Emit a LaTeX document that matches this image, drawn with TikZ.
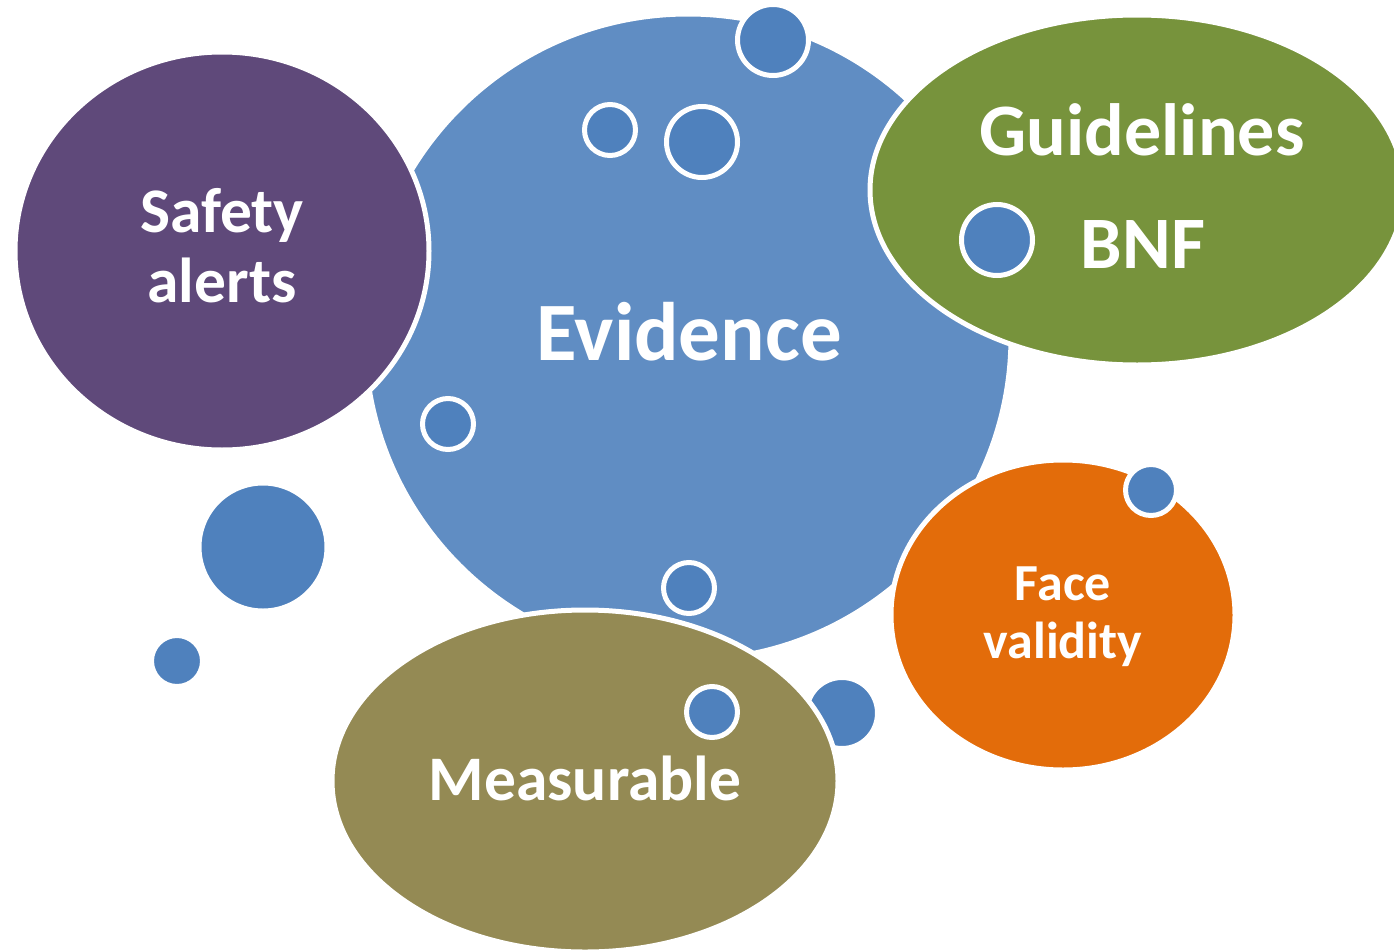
\documentclass[tikz,border=0pt]{standalone}
\usepackage{fontspec}
\setmainfont{Carlito}
\usetikzlibrary{shapes.geometric}
\definecolor{evblue}{RGB}{96,141,195}
\definecolor{dotblue}{RGB}{79,129,189}
\definecolor{plum}{RGB}{95,73,122}
\definecolor{leaf}{RGB}{119,147,60}
\definecolor{amber}{RGB}{227,108,10}
\definecolor{khaki}{RGB}{148,138,84}
\newcommand{\fsz}[1]{\fontsize{#1}{#1}\selectfont\bfseries}
\tikzset{
  blob/.style={ellipse, inner sep=0pt, draw=white, line width=5pt},
  dot/.style={circle, inner sep=0pt, fill=dotblue, draw=white, line width=5pt, minimum size=#1},
  label/.style={text=white, anchor=base, align=center, inner sep=0pt},
}
\begin{document}
\begin{tikzpicture}[x=1pt, y=-1pt]
\useasboundingbox (0,0) rectangle (1394,950);
\clip (0,0) rectangle (1394,950);
% main bubble
\node[circle, inner sep=0pt, fill=evblue, draw=white, line width=5pt, minimum size=646pt] (evidence) at (688,337) {};
% surrounding bubbles
\node[blob, fill=plum, minimum width=414pt, minimum height=398pt] (safety) at (222,251) {};
\node[blob, fill=leaf, minimum width=534pt, minimum height=350pt] (guide) at (1137,190) {};
\node[blob, fill=amber, minimum width=344pt, minimum height=310pt] (face) at (1063,615) {};
\node[dot=71pt] (d10) at (842,713) {};
\node[blob, fill=khaki, minimum width=506pt, minimum height=342pt] (meas) at (585,781) {};
% small dots
\node[dot=71pt] (d1) at (773,40) {};
\node[dot=51pt] (d2) at (610,130) {};
\node[dot=71pt] (d3) at (702,142) {};
\node[dot=71pt] (d4) at (997,240) {};
\node[dot=51pt] (d5) at (448,424) {};
\node[dot=51pt] (d6) at (689,588) {};
\node[dot=51pt] (d7) at (712,712) {};
\node[dot=51pt] (d8) at (1151,490) {};
\node[dot=128pt] (d9) at (263,547) {};
\node[dot=51pt] (d11) at (177,661) {};
% labels
\node[label, font=\fsz{83}] (tev) at (689,360) {Evidence};
\node[label, font=\fsz{63.5}] (tsa) at (222,232) {Safety};
\node[label, font=\fsz{63.5}] (tal) at (222,302) {alerts};
\node[label, font=\fsz{74}] (tgu) at (1142,155) {Guidelines};
\node[label, font=\fsz{74}] (tbn) at (1143,268) {BNF};
\node[label, font=\fsz{52}] (tfa) at (1063,600) {Face};
\node[label, font=\fsz{52}] (tva) at (1063,658) {validity};
\node[label, font=\fsz{63.5}] (tme) at (585,800) {Measurable};
\end{tikzpicture}
\end{document}
